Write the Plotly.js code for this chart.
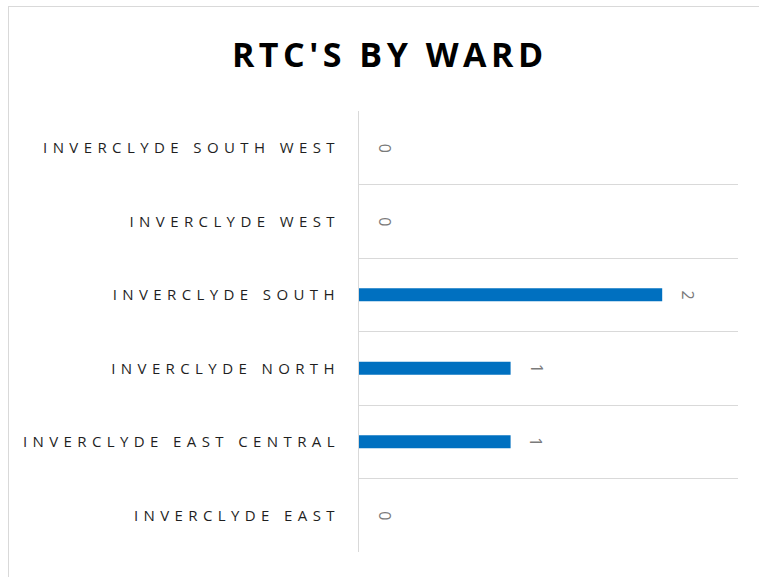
<!DOCTYPE html>
<html><head><meta charset="utf-8">
<script src="https://cdn.plot.ly/plotly-3.0.1.min.js"></script>
<style>
html,body{margin:0;padding:0;background:#fff;overflow:hidden;}
#wrap{position:absolute;left:8px;top:6px;width:751px;height:571px;border-left:1px solid #d9d9d9;border-top:1px solid #d9d9d9;}
#chart{width:750px;height:570px;}
.ytick text{letter-spacing:5.4px;}
.gtitle{letter-spacing:4.5px;}
</style></head>
<body><div id="wrap"><div id="chart"></div></div>
<script>
const wards = ["INVERCLYDE EAST","INVERCLYDE EAST CENTRAL","INVERCLYDE NORTH","INVERCLYDE SOUTH","INVERCLYDE WEST","INVERCLYDE SOUTH WEST"];
const rtcs = [0,1,1,2,0,0];
const titleText = "RTC'S BY WARD";

const trace = {type:'bar', orientation:'h', y:wards, x:rtcs,
  marker:{color:'#0070c0'}, hoverinfo:'none'};

const annotations = wards.map((w,i)=>({x:rtcs[i], y:w, xref:'x', yref:'y', text:String(rtcs[i]),
  showarrow:false, textangle:90, xshift:26, font:{family:'Open Sans', size:16, color:'#7a7a7a'}}));

const layout = {
  width:750, height:570,
  margin:{l:350, r:21, t:104, b:25},
  paper_bgcolor:'#fff', plot_bgcolor:'#fff',
  showlegend:false,
  title:{text:'<b>'+titleText+'</b>', x:0.5077, xanchor:'center', y:0.915, yanchor:'middle',
    font:{family:'Open Sans', size:34, color:'#000'}},
  bargap:0.82,
  xaxis:{range:[0,2.5], showgrid:false, zeroline:false, showticklabels:false, showline:false, fixedrange:true},
  yaxis:{type:'category', range:[-0.5,5.5], tickson:'boundaries', showgrid:true, gridcolor:'#d9d9d9', gridwidth:1,
    showline:true, linecolor:'#d9d9d9', linewidth:1, ticks:'', ticklabelstandoff:15,
    tickfont:{family:'Open Sans', size:15, color:'#1f1f1f'}},
  annotations:annotations
};
Plotly.newPlot('chart',[trace],layout,{displayModeBar:false,staticPlot:true});
</script></body></html>
